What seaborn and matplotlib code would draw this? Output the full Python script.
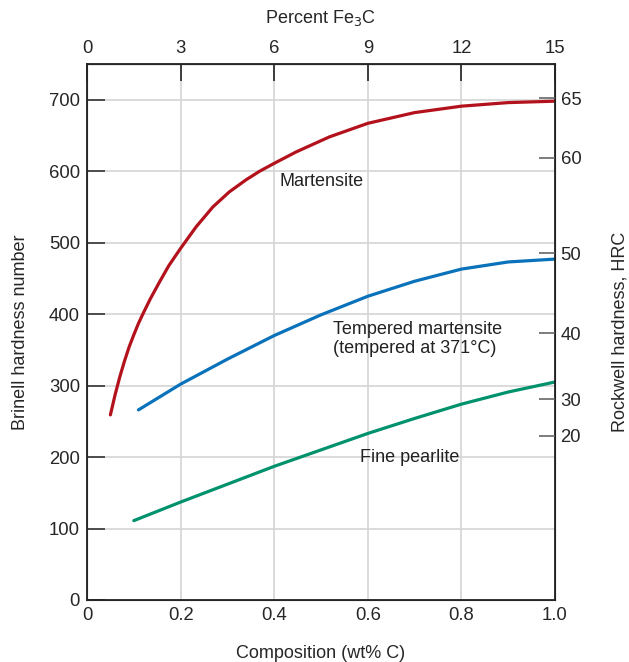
import numpy as np
import pandas as pd
import matplotlib
matplotlib.use("Agg")
import matplotlib.pyplot as plt
from matplotlib.ticker import MultipleLocator
import seaborn as sns

# datos (wt% C vs dureza Brinell)
mart_x = [0.05, 0.06, 0.07, 0.08, 0.09, 0.1, 0.11, 0.12, 0.135, 0.155, 0.175, 0.2, 0.233,
          0.269, 0.304, 0.34, 0.369, 0.4, 0.447, 0.518, 0.6, 0.7, 0.8, 0.9, 1.0]
mart_y = [259, 287, 312, 334, 354, 371, 387, 401, 421, 445, 468, 492, 522,
          550, 571, 588, 600, 611, 627, 648, 667, 682, 691, 696, 698]

temp_x = [0.11, 0.2, 0.3, 0.4, 0.5, 0.6, 0.7, 0.8, 0.9, 1.0]
temp_y = [266, 302, 337, 370, 399, 425, 446, 463, 473, 477]

pearl_x = [0.1, 0.2, 0.3, 0.4, 0.5, 0.6, 0.7, 0.8, 0.9, 1.0]
pearl_y = [111, 137, 162, 187, 210, 233, 254, 274, 291, 305]

# escala Rockwell (HRC) sobre el eje derecho, en posiciones Brinell
hrc_labels = [20, 30, 40, 50, 60, 65]
hrc_brinell = [230, 281, 373, 485, 619, 702]

fe3c_ticks = [0, 3, 6, 9, 12, 15]

df = pd.concat([
    pd.DataFrame({"C": mart_x, "HB": mart_y, "curva": "Martensite"}),
    pd.DataFrame({"C": temp_x, "HB": temp_y, "curva": "Tempered"}),
    pd.DataFrame({"C": pearl_x, "HB": pearl_y, "curva": "Pearlite"}),
])
colores = {"Martensite": "#b3121c", "Tempered": "#0a72ba", "Pearlite": "#00926c"}

sns.set_style("white")
plt.rcParams["font.family"] = ["Liberation Sans", "DejaVu Sans"]
plt.rcParams["font.size"] = 13.3

fig = plt.figure(figsize=(6.29, 6.62), dpi=100)
ax = fig.add_axes([0.1383, 0.0937, 0.744, 0.8096])

for v in [0.2, 0.4, 0.6, 0.8]:
    ax.axvline(v, color="#d4d4d4", lw=1.2, zorder=0)
for h in range(100, 701, 100):
    ax.axhline(h, color="#d4d4d4", lw=1.2, zorder=0)

sns.lineplot(data=df, x="C", y="HB", hue="curva", palette=colores, lw=2.3,
             legend=False, ax=ax, sort=True, estimator=None)

ax.set_xlim(0, 1.0)
ax.set_ylim(0, 750)
ax.set_xticks([0, 0.2, 0.4, 0.6, 0.8, 1.0])
ax.set_xticklabels(["0", "0.2", "0.4", "0.6", "0.8", "1.0"])
ax.xaxis.set_minor_locator(MultipleLocator(0.1))
ax.set_yticks(range(0, 701, 100))
ax.tick_params(axis="x", which="major", direction="in", length=12, width=1.2, color="#222222", pad=5)
ax.tick_params(axis="x", which="minor", direction="in", length=6.5, width=1.2, color="#222222")
ax.tick_params(axis="y", direction="in", length=13, width=1.2, color="#333333", pad=5)
ax.set_xlabel("Composition (wt% C)", labelpad=15, fontsize=13)
ax.set_ylabel("Brinell hardness number", labelpad=14, fontsize=13)
for s in ax.spines.values():
    s.set_color("#222222")
    s.set_linewidth(1.3)

# eje superior: porcentaje de Fe3C
top = ax.secondary_xaxis("top", functions=(lambda x: x * 15, lambda x: x / 15))
top.set_xticks(fe3c_ticks)
top.tick_params(direction="in", length=12, width=1.2, color="#222222", pad=5)
top.set_xlabel("Percent Fe$_3$C", labelpad=12, fontsize=13)

# eje derecho: Rockwell HRC
ax2 = ax.twinx()
ax2.set_ylim(ax.get_ylim())
ax2.set_yticks(hrc_brinell)
ax2.set_yticklabels([str(h) for h in hrc_labels])
ax2.tick_params(direction="in", length=11.5, width=1.2, color="#666666", pad=4)
ax2.set_ylabel("Rockwell hardness, HRC", labelpad=22, fontsize=13)
ax2.spines["right"].set_color("#222222")
ax2.grid(False)

ax.text(0.501, 585, "Martensite", ha="center", va="center", color="#222222", fontsize=13)
ax.text(0.525, 365, "Tempered martensite\n(tempered at 371\u00b0C)", ha="left", va="center",
        color="#222222", linespacing=1.2, fontsize=13)
ax.text(0.583, 199, "Fine pearlite", ha="left", va="center", color="#222222", fontsize=13)

fig.savefig("out.png", dpi=100)
